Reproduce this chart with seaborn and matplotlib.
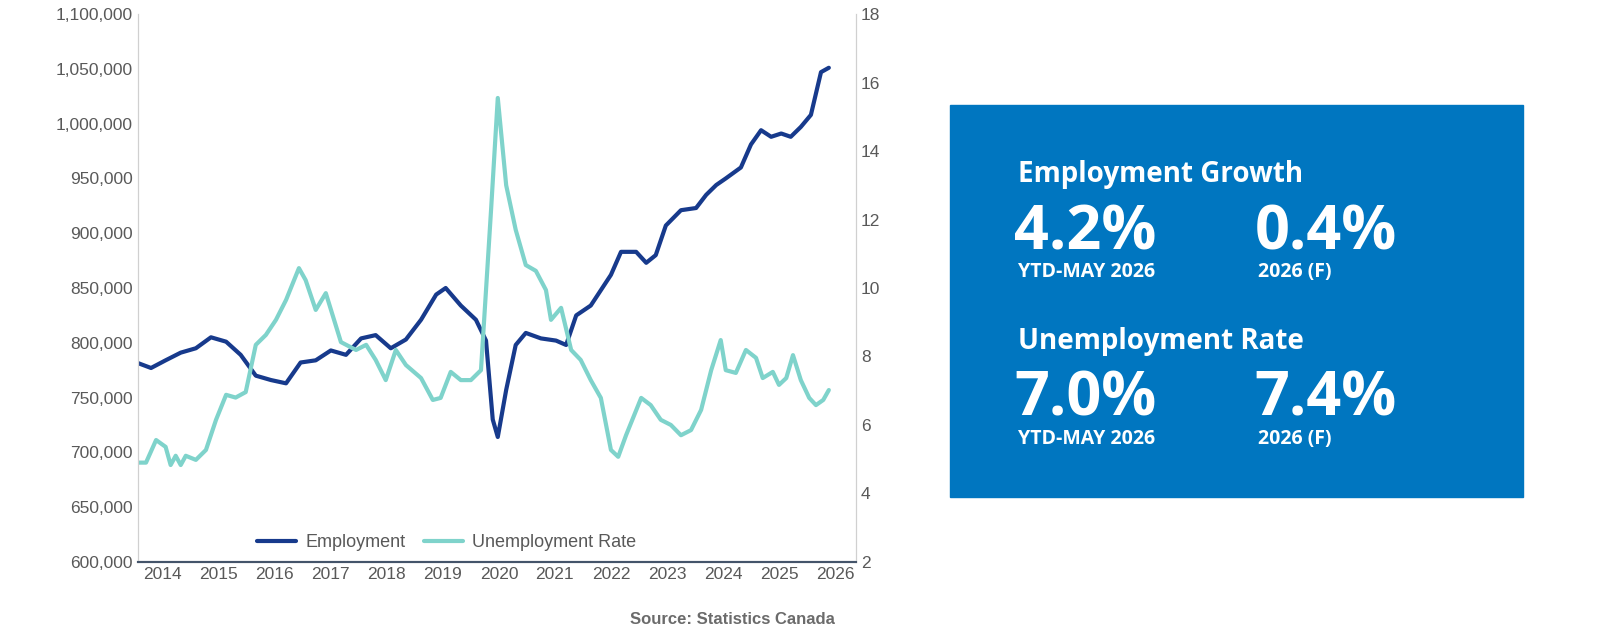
import matplotlib
matplotlib.use("Agg")
import matplotlib.pyplot as plt
import seaborn as sns
import pandas as pd
from matplotlib.ticker import FuncFormatter
from matplotlib.patches import Rectangle

sns.set_style("white")
plt.rcParams['font.family'] = ['Liberation Sans', 'DejaVu Sans']

# %% data (decimal years)
emp_t = [2013.55, 2013.79, 2014.05, 2014.32, 2014.59, 2014.86, 2015.13, 2015.39, 2015.66, 2015.93,
         2016.20, 2016.46, 2016.73, 2017.00, 2017.27, 2017.54, 2017.80, 2018.07, 2018.34, 2018.61,
         2018.88, 2019.05, 2019.32, 2019.59, 2019.77, 2019.89, 2019.98, 2020.13, 2020.30, 2020.48,
         2020.75, 2021.02, 2021.20, 2021.38, 2021.64, 2021.82, 2022.00, 2022.18, 2022.45, 2022.63,
         2022.80, 2022.98, 2023.25, 2023.52, 2023.70, 2023.88, 2024.05, 2024.32, 2024.50, 2024.68,
         2024.86, 2025.04, 2025.21, 2025.39, 2025.57, 2025.75, 2025.89]
employment = [781600, 777000, 784000, 791000, 795000, 805000, 801000, 789000, 770000, 766000,
              763000, 782000, 784000, 793000, 789000, 804000, 807000, 795000, 803000, 821000,
              844000, 850000, 834000, 821000, 802000, 730000, 714000, 757000, 798000, 809000,
              804000, 802000, 798000, 825000, 834000, 848000, 862000, 883000, 883000, 873000,
              880000, 907000, 921000, 923000, 935000, 944000, 950000, 960000, 981000, 994000,
              988000, 991000, 988000, 997000, 1008000, 1047000, 1051000]

ur_t = [2013.55, 2013.70, 2013.88, 2014.05, 2014.14, 2014.23, 2014.32, 2014.41, 2014.59, 2014.77,
        2014.95, 2015.13, 2015.30, 2015.48, 2015.66, 2015.84, 2016.02, 2016.20, 2016.43, 2016.55,
        2016.73, 2016.91, 2017.18, 2017.45, 2017.63, 2017.80, 2017.98, 2018.16, 2018.34, 2018.61,
        2018.82, 2018.96, 2019.14, 2019.32, 2019.50, 2019.68, 2019.86, 2019.98, 2020.13, 2020.30,
        2020.48, 2020.66, 2020.84, 2020.93, 2021.11, 2021.29, 2021.46, 2021.64, 2021.82, 2022.00,
        2022.13, 2022.27, 2022.54, 2022.71, 2022.89, 2023.07, 2023.25, 2023.43, 2023.61, 2023.79,
        2023.96, 2024.05, 2024.23, 2024.41, 2024.59, 2024.71, 2024.89, 2025.00, 2025.13, 2025.25,
        2025.39, 2025.54, 2025.66, 2025.79, 2025.89]
unemployment = [4.9, 4.9, 5.56, 5.36, 4.83, 5.1, 4.83, 5.1, 4.98, 5.27,
                6.15, 6.88, 6.8, 6.96, 8.34, 8.63, 9.07, 9.65, 10.58, 10.23,
                9.36, 9.85, 8.42, 8.19, 8.34, 7.9, 7.31, 8.19, 7.75, 7.37,
                6.73, 6.79, 7.55, 7.31, 7.31, 7.6, 12.28, 15.55, 13.0, 11.7,
                10.67, 10.5, 9.94, 9.07, 9.42, 8.19, 7.9, 7.31, 6.79, 5.27,
                5.07, 5.7, 6.79, 6.58, 6.15, 6.0, 5.7, 5.85, 6.44, 7.6,
                8.48, 7.6, 7.52, 8.19, 7.96, 7.37, 7.55, 7.17, 7.37, 8.04,
                7.31, 6.79, 6.58, 6.73, 7.02]

years = list(range(2014, 2027))
box_stats = [("Employment Growth", "4.2%", "YTD-MAY 2026", "0.4%", "2026 (F)"),
             ("Unemployment Rate", "7.0%", "YTD-MAY 2026", "7.4%", "2026 (F)")]

emp_color = "#173A8C"
ur_color = "#7FD3CB"
grey = "#595959"

emp_df = pd.DataFrame({"t": emp_t, "v": employment})
ur_df = pd.DataFrame({"t": ur_t, "v": unemployment})

# %% chart
fig = plt.figure(figsize=(16, 6.4), dpi=100)
ax = fig.add_axes([0.086, 0.122, 0.449, 0.856])
ax2 = ax.twinx()

sns.lineplot(data=emp_df, x="t", y="v", ax=ax, color=emp_color, lw=3, label="Employment", legend=False)
sns.lineplot(data=ur_df, x="t", y="v", ax=ax2, color=ur_color, lw=3, label="Unemployment Rate", legend=False)

ax.set_xlim(2013.55, 2026.375)
ax.set_ylim(600000, 1100000)
ax.set_yticks(range(600000, 1100001, 50000))
ax.yaxis.set_major_formatter(FuncFormatter(lambda v, p: f"{int(v):,}"))
ax2.set_ylim(2, 18)
ax2.set_yticks(range(2, 19, 2))
ax.set_xticks(years)
for a in (ax, ax2):
    a.set_xlabel("")
    a.set_ylabel("")
    a.tick_params(labelsize=12.5, colors=grey, length=0)
    a.spines["top"].set_visible(False)
    a.spines["left"].set_color("#d0d0d0")
    a.spines["right"].set_color("#d0d0d0")
    a.spines["bottom"].set_color("#44546A")
    a.spines["bottom"].set_linewidth(1.5)

h1, l1 = ax.get_legend_handles_labels()
h2, l2 = ax2.get_legend_handles_labels()
ax2.legend(h1 + h2, l1 + l2, loc="lower center", bbox_to_anchor=(0.43, -0.01), ncol=2,
           frameon=False, fontsize=13, labelcolor=grey, handlelength=2.2, columnspacing=1.0,
           handletextpad=0.5)

fig.text(0.522, 0.025, "Source: Statistics Canada", ha="right", fontsize=12,
         color="#6b6b6b", fontweight="bold")

# %% blue box
fig.patches.append(Rectangle((0.594, 0.223), 0.358, 0.6125, transform=fig.transFigure,
                             color="#0076C0", zorder=0))
bf = ['Open Sans', 'DejaVu Sans']
for i, (title, v1, s1, v2, s2) in enumerate(box_stats):
    y0 = 0.715 - i * 0.26
    fig.text(0.636, y0, title, fontsize=20, color="white", fontweight="bold", family=bf)
    fig.text(0.634, y0 - 0.105, v1, fontsize=44, color="white", fontweight="bold", family=bf)
    fig.text(0.784, y0 - 0.105, v2, fontsize=44, color="white", fontweight="bold", family=bf)
    fig.text(0.636, y0 - 0.148, s1, fontsize=14, color="white", fontweight="bold", family=bf)
    fig.text(0.786, y0 - 0.148, s2, fontsize=14, color="white", fontweight="bold", family=bf)

fig.savefig("out.png", dpi=100)
